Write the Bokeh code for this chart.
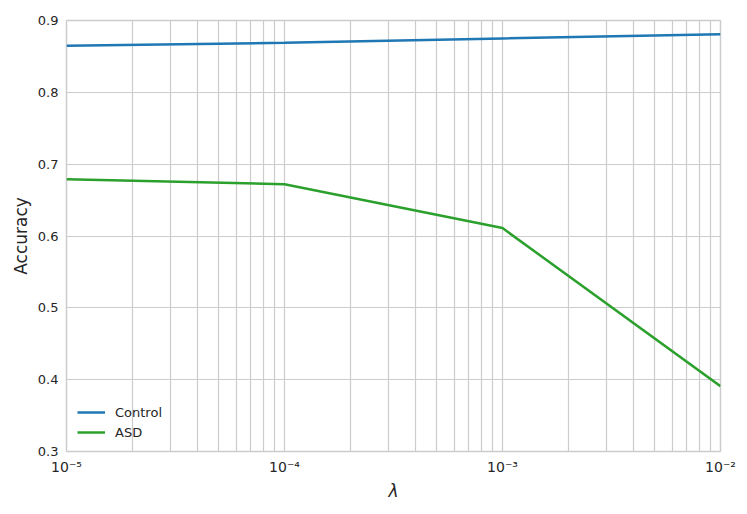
from bokeh.plotting import figure
from bokeh.models import FixedTicker, CustomJSTickFormatter, Range1d, Legend, LegendItem
from bokeh.embed import file_html
from bokeh.resources import INLINE

lambdas = [1e-5, 1e-4, 1e-3, 1e-2]
control = [0.865, 0.869, 0.875, 0.881]
asd = [0.679, 0.672, 0.611, 0.391]
y_ticks = [0.3, 0.4, 0.5, 0.6, 0.7, 0.8, 0.9]
x_major = [1e-5, 1e-4, 1e-3, 1e-2]
x_minor = [m * d for d in x_major[:-1] for m in range(2, 10)]

FONT = "DejaVu Sans"
TXT = "#262626"
GRID = "#cccccc"

p = figure(width=740, height=510, x_axis_type="log", output_backend="svg",
           toolbar_location=None, frame_width=654, frame_height=431,
           min_border_left=66, min_border_top=20, min_border_right=20, min_border_bottom=40)
p.x_range = Range1d(1e-5, 1e-2)
p.y_range = Range1d(0.3, 0.9)

l1 = p.line(lambdas, control, line_color="#1f77b4", line_width=2.5)
l2 = p.line(lambdas, asd, line_color="#2ca02c", line_width=2.5)

p.xaxis.ticker = FixedTicker(ticks=x_major, minor_ticks=x_minor)
p.xaxis.formatter = CustomJSTickFormatter(code="""
const sup = {'-':'\u207b','0':'\u2070','1':'\u00b9','2':'\u00b2','3':'\u00b3','4':'\u2074','5':'\u2075','6':'\u2076','7':'\u2077','8':'\u2078','9':'\u2079'};
const e = Math.round(Math.log10(tick)).toString();
return '10' + e.split('').map(c => sup[c]).join('');
""")
p.yaxis.ticker = FixedTicker(ticks=y_ticks)
p.yaxis.formatter = CustomJSTickFormatter(code="return tick.toFixed(1);")

for ax in (p.xaxis[0], p.yaxis[0]):
    ax.axis_line_color = None
    ax.major_tick_line_color = None
    ax.minor_tick_line_color = None
    ax.major_tick_out = 0
    ax.major_tick_in = 0
    ax.minor_tick_out = 0
    ax.minor_tick_in = 0
    ax.major_label_text_font = FONT
    ax.major_label_text_font_size = "13px"
    ax.major_label_text_color = TXT
    ax.axis_label_text_font = FONT
    ax.axis_label_text_font_size = "17px"
    ax.axis_label_text_font_style = "normal"
    ax.axis_label_text_color = TXT

p.xaxis.axis_label = "λ"
p.xaxis.axis_label_text_font_style = "italic"
p.xaxis.major_label_text_font_size = "14px"
p.xaxis.major_label_standoff = 7
p.xaxis.axis_label_standoff = 3
p.yaxis.axis_label = "Accuracy"
p.yaxis.major_label_standoff = 8
p.yaxis.axis_label_standoff = 4

p.xgrid.grid_line_color = GRID
p.xgrid.minor_grid_line_color = GRID
p.xgrid.grid_line_width = 1.2
p.xgrid.minor_grid_line_width = 1.2
p.ygrid.grid_line_color = GRID
p.ygrid.grid_line_width = 1.2
p.outline_line_color = GRID
p.outline_line_width = 1.5

legend = Legend(items=[LegendItem(label="Control", renderers=[l1]),
                       LegendItem(label="ASD", renderers=[l2])],
                location=(11, 9), border_line_color=None,
                background_fill_alpha=0, label_text_font=FONT,
                label_text_font_size="13px", label_text_color=TXT,
                glyph_width=28, label_standoff=10, spacing=0, padding=4,
                margin=0)
p.add_layout(legend)

open("out.html", "w").write(file_html(p, INLINE))
